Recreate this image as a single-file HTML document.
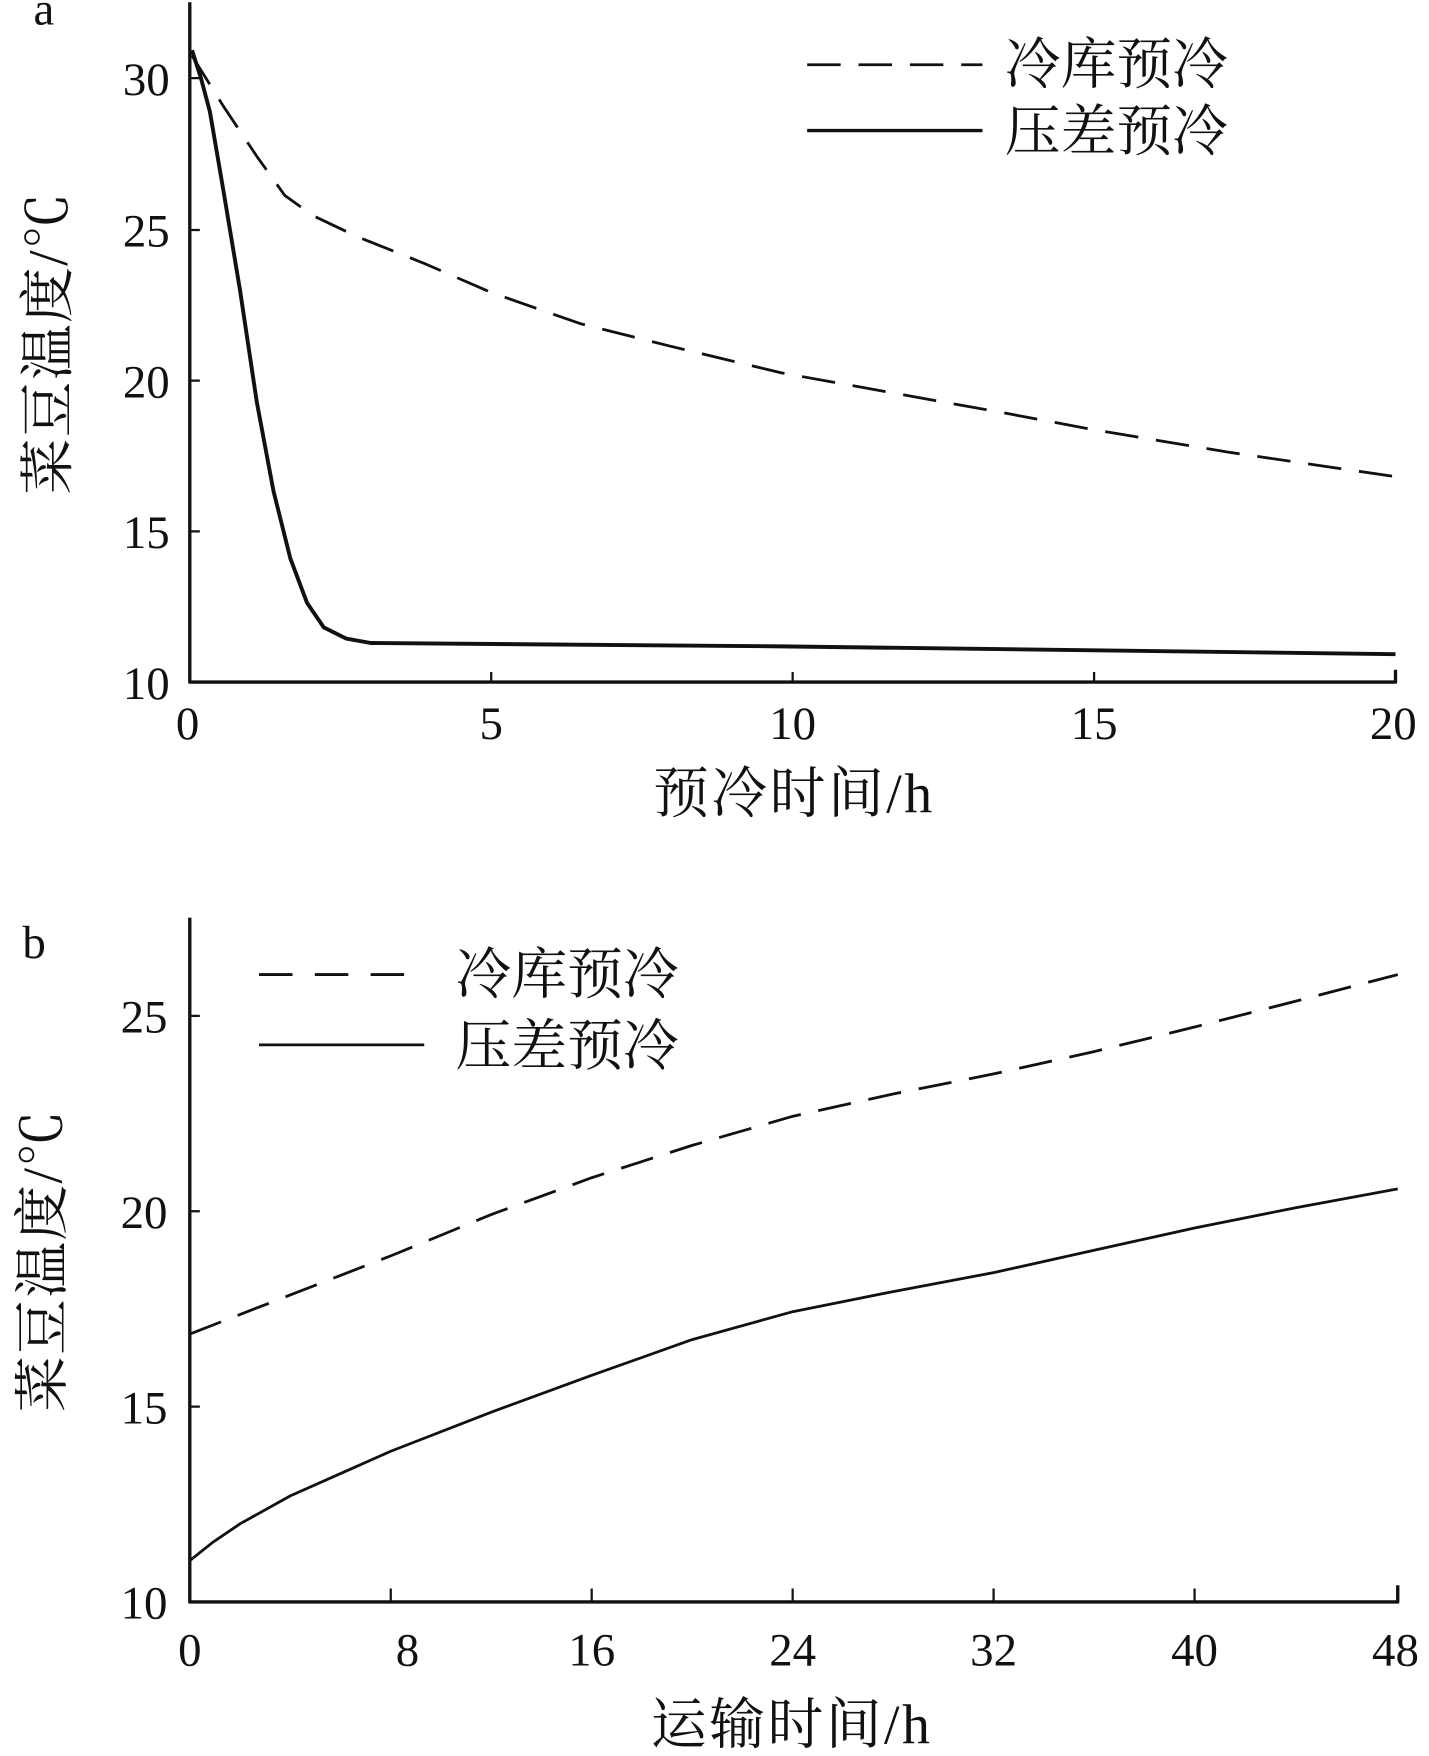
<!DOCTYPE html><html><head><meta charset="utf-8"><style>html,body{margin:0;padding:0;background:#fff}svg{display:block}text{font-family:"Liberation Serif","Noto Serif CJK SC",serif;fill:#111}</style></head><body>
<svg width="1429" height="1756" viewBox="0 0 1280 1573" preserveAspectRatio="none" xmlns="http://www.w3.org/2000/svg">
<g stroke="#111" fill="none" stroke-linejoin="round">
<path d="M170,2V611H1250V600" stroke-width="3"/>
<path d="M440,611v-9M710,611v-9M980,611v-9M170,476h9M170,341h9M170,206h9M170,70h9" stroke-width="2"/>
<path d="M172,50 L200,95 L230,140 L255,175 L280,193 L320,212 L380,236 L440,262 L520,290 L600,310 L700,334 L800,352 L900,370 L980,385 L1100,405 L1250,427" stroke-width="2.5" stroke-dasharray="30,16"/>
<path d="M172,45 L180,70 L188,100 L200,170 L215,260 L230,360 L245,440 L260,500 L275,540 L290,562 L310,572 L332,576 L700,579 L1250,586" stroke-width="3.5"/>
<path d="M723,58H880" stroke-width="2.5" stroke-dasharray="30,16"/>
<path d="M723,117H880" stroke-width="3"/>
<path d="M170,822V1435H1252V1420" stroke-width="3"/>
<path d="M350,1435v-12M530,1435v-12M710,1435v-12M890,1435v-12M1070,1435v-12M170,1260h9M170,1085h9M170,910h9" stroke-width="2"/>
<path d="M170,1195 L260,1160 L350,1125 L440,1088 L530,1055 L620,1026 L710,1000 L800,980 L890,962 L980,942 L1070,920 L1160,897 L1252,873" stroke-width="2.5" stroke-dasharray="30,16"/>
<path d="M170,1398 L190,1382 L215,1365 L260,1340 L305,1320 L350,1300 L440,1265 L530,1232 L620,1200 L710,1175 L800,1157 L890,1140 L980,1120 L1070,1100 L1160,1082 L1252,1065" stroke-width="2.5"/>
<path d="M232,873H380" stroke-width="2.5" stroke-dasharray="30,20"/>
<path d="M232,936H380" stroke-width="2.5"/>
</g>
<g font-size="42">
<text x="30" y="22">a</text>
<text x="152" y="85" text-anchor="end">30</text><text x="152" y="221" text-anchor="end">25</text><text x="152" y="356" text-anchor="end">20</text><text x="152" y="491" text-anchor="end">15</text><text x="152" y="626" text-anchor="end">10</text>
<text x="168" y="662" text-anchor="middle">0</text><text x="440" y="662" text-anchor="middle">5</text><text x="710" y="662" text-anchor="middle">10</text><text x="980" y="662" text-anchor="middle">15</text><text x="1248" y="662" text-anchor="middle">20</text>
<text x="20" y="858">b</text>
<text x="150" y="925" text-anchor="end">25</text><text x="150" y="1100" text-anchor="end">20</text><text x="150" y="1275" text-anchor="end">15</text><text x="150" y="1450" text-anchor="end">10</text>
<text x="170" y="1492" text-anchor="middle">0</text><text x="365" y="1492" text-anchor="middle">8</text><text x="530" y="1492" text-anchor="middle">16</text><text x="710" y="1492" text-anchor="middle">24</text><text x="890" y="1492" text-anchor="middle">32</text><text x="1070" y="1492" text-anchor="middle">40</text><text x="1250" y="1492" text-anchor="middle">48</text>
</g>
<g font-size="50">
<text x="710" y="728" text-anchor="middle" textLength="250">预冷时间/h</text>
<text x="900" y="75">冷库预冷</text><text x="900" y="135">压差预冷</text>
<text transform="translate(60,308) rotate(-90)" text-anchor="middle" textLength="270">菜豆温度/℃</text>
<text x="708" y="1562" text-anchor="middle" textLength="250">运输时间/h</text>
<text x="408" y="890">冷库预冷</text><text x="408" y="954">压差预冷</text>
<text transform="translate(55,1130) rotate(-90)" text-anchor="middle" textLength="270">菜豆温度/℃</text>
</g>
</svg>
</body></html>
